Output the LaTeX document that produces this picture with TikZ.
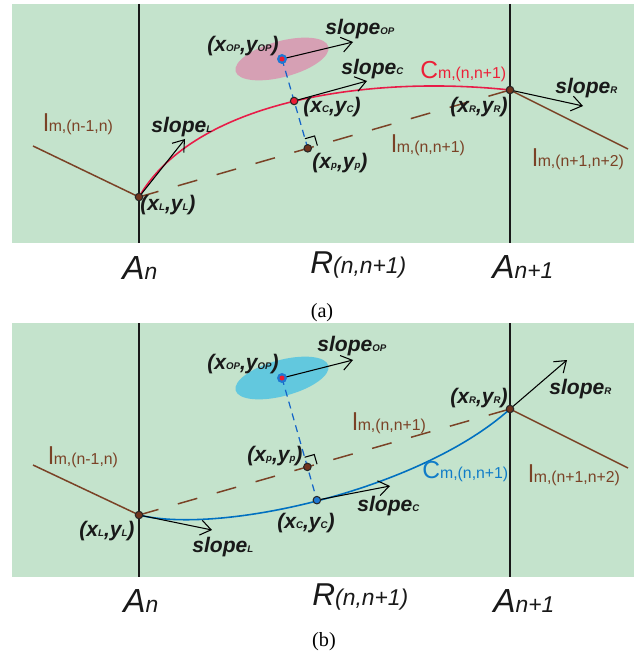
\documentclass[tikz,border=0pt]{standalone}
\usepackage{fontspec}
\setmainfont{Liberation Serif}
\setsansfont{Liberation Sans}
\usetikzlibrary{arrows.meta, calc}

\definecolor{panelgreen}{RGB}{196,227,204}
\definecolor{segbrown}{RGB}{122,66,38}
\definecolor{dotbrown}{RGB}{112,52,30}
\definecolor{curvered}{RGB}{232,28,72}
\definecolor{lblred}{RGB}{236,32,56}
\definecolor{curveblue}{RGB}{0,112,192}
\definecolor{lblblue}{RGB}{16,124,200}
\definecolor{ellpink}{RGB}{214,160,180}
\definecolor{ellcyan}{RGB}{98,200,222}
\definecolor{dotred}{RGB}{236,28,52}
\definecolor{dotblue}{RGB}{30,120,210}
\definecolor{projblue}{RGB}{20,100,200}

\newcommand{\xylab}[1]{(x{\fontsize{5.5}{6}\selectfont #1},y{\fontsize{5.5}{6}\selectfont #1})}
\newcommand{\slopelab}[1]{slope{\fontsize{5.5}{6}\selectfont #1}}
\newcommand{\linelab}[2]{{\fontsize{14}{14}\selectfont #1}{\fontsize{9}{9}\selectfont m,(#2)}}
\newcommand{\axlab}[3]{{\fontsize{#1}{#1}\selectfont #2}{\fontsize{13}{13}\selectfont #3}}

\begin{document}
\begin{tikzpicture}[
            x=0.02cm, y=-0.02cm,
            panel/.style={fill=panelgreen, draw=none},
            axisline/.style={line width=1.4pt, black!90},
            segline/.style={draw=segbrown, line width=0.85pt},
            chordline/.style={draw=segbrown, line width=0.85pt, dash pattern=on 11.5pt off 11.5pt},
            projline/.style={draw=projblue, line width=0.7pt, dash pattern=on 4pt off 3pt},
            slopearrow/.style={
                    -{Straight Barb[length=2.1mm,width=3mm]},
                    line width=0.6pt,
                    black
                },
            rightmark/.style={line width=0.6pt, black},
            ptdot/.style={
                    circle,
                    draw=black!85,
                    line width=0.6pt,
                    inner sep=0pt,
                    minimum size=1.5mm,
                    fill=dotbrown
                },
            opdot/.style={circle, inner sep=0pt, minimum size=2mm, fill=dotblue},
            opcore/.style={circle, inner sep=0pt, minimum size=1mm, fill=dotred},
            coordlbl/.style={
                    font=\sffamily\bfseries\itshape\fontsize{12}{14}\selectfont,
                    text=black!90,
                    inner sep=0pt,
                    anchor=base west
                },
            linelbl/.style={font=\sffamily, text=segbrown, inner sep=0pt, anchor=base west},
            axlbl/.style={font=\sffamily\itshape, text=black!90, inner sep=0pt, anchor=base west},
            caplbl/.style={font=\fontsize{11.5}{13}\selectfont, inner sep=0pt, anchor=base}
        ]
        \useasboundingbox (0,0) rectangle (641,658);

        % ---------- panel (a) ----------
        \fill[panel] (12,4) rectangle (634,243);
        \coordinate (Ana-top) at (139,4);
        \coordinate (Ana-bot) at (139,243);
        \coordinate (Apa-top) at (510,4);
        \coordinate (Apa-bot) at (510,243);
        \draw[axisline] (Ana-top) -- (Ana-bot);
        \draw[axisline] (Apa-top) -- (Apa-bot);

        \coordinate (La) at (139,197);
        \coordinate (Ra) at (510,90);
        \coordinate (OPa) at (282,59);
        \coordinate (Pa) at ($(La)!(OPa)!(Ra)$);
        \coordinate (Ca) at ($(OPa)!0.47!(Pa)$);
        \coordinate (lLa) at (33,146);
        \coordinate (lRa) at (628,149);
        \coordinate (sLa) at (185,139);
        \coordinate (sOPa) at (353,42);
        \coordinate (sCa) at (367,81);
        \coordinate (sRa) at (583,106);

        \fill[ellpink, rotate around={15:(OPa)}] (OPa) ellipse [x radius=0.96cm, y radius=0.36cm];

        \draw[segline] (lLa) -- (La);
        \draw[segline] (Ra) -- (lRa);
        \draw[chordline] (La) -- (Ra);
        \draw[curvered, line width=0.9pt] (La) .. controls (195,100) and (370,75) .. (Ra);
        \draw[projline] (OPa) -- (Pa);

        \coordinate (qa1) at ($(Pa)!2mm!(OPa)$);
        \coordinate (qa2) at ($(Pa)!2mm!(Ra)$);
        \draw[rightmark] (qa1) -- ($(qa1)+(qa2)-(Pa)$) -- (qa2);

        \draw[slopearrow] (La) -- (sLa);
        \draw[slopearrow] (OPa) -- (sOPa);
        \draw[slopearrow] (Ca) -- (sCa);
        \draw[slopearrow] (Ra) -- (sRa);

        \node[ptdot] (La-dot) at (La) {};
        \node[ptdot] (Ra-dot) at (Ra) {};
        \node[ptdot] (Pa-dot) at (Pa) {};
        \node[ptdot, fill=dotred] (Ca-dot) at (Ca) {};
        \node[opdot] (OPa-dot) at (OPa) {};
        \node[opcore] (OPa-core) at (OPa) {};

        \node[linelbl] (lbl-lLa) at (43,132) {\linelab{l}{n-1,n}};
        \node[linelbl] (lbl-lMa) at (391,153) {\linelab{l}{n,n+1}};
        \node[linelbl] (lbl-lRa) at (532,167) {\linelab{l}{n+1,n+2}};
        \node[linelbl, text=lblred] (lbl-Cma) at (420,79) {\linelab{C}{n,n+1}};

        \node[coordlbl] (lbl-La) at (140,211) {\xylab{L}};
        \node[coordlbl] (lbl-OPa) at (207,52) {\xylab{OP}};
        \node[coordlbl] (lbl-Ca) at (303,113) {\xylab{C}};
        \node[coordlbl] (lbl-Pa) at (312,169) {\xylab{p}};
        \node[coordlbl, anchor=base east] (lbl-Ra) at (508,113) {\xylab{R}};
        \node[coordlbl] (lbl-sLa) at (151,133) {\slopelab{L}};
        \node[coordlbl] (lbl-sOPa) at (325,35) {\slopelab{OP}};
        \node[coordlbl] (lbl-sCa) at (341,75) {\slopelab{C}};
        \node[coordlbl] (lbl-sRa) at (555,94) {\slopelab{R}};

        \node[axlbl] (lbl-Ana) at (122,279) {\axlab{19}{A}{n}};
        \node[axlbl] (lbl-Rsa) at (310,273) {\axlab{18}{R}{(n,n+1)}};
        \node[axlbl] (lbl-Apa) at (492,278) {\axlab{19}{A}{n+1}};
        \node[caplbl] (cap-a) at (322,317) {(a)};

        % ---------- panel (b) ----------
        \fill[panel] (12,323) rectangle (634,577);
        \coordinate (Anb-top) at (139,323);
        \coordinate (Anb-bot) at (139,577);
        \coordinate (Apb-top) at (510,323);
        \coordinate (Apb-bot) at (510,577);
        \draw[axisline] (Anb-top) -- (Anb-bot);
        \draw[axisline] (Apb-top) -- (Apb-bot);

        \coordinate (Lb) at (139,515);
        \coordinate (Rb) at (510,409);
        \coordinate (OPb) at (282,378);
        \coordinate (Pb) at ($(Lb)!(OPb)!(Rb)$);
        \coordinate (Cb) at ($(OPb)!1.374!(Pb)$);
        \coordinate (lLb) at (33,465);
        \coordinate (lRb) at (628,468);
        \coordinate (sLb) at (212,530);
        \coordinate (sOPb) at (353,360);
        \coordinate (sCb) at (390,486);
        \coordinate (sRb) at (567,360);

        \fill[ellcyan, rotate around={15:(OPb)}] (OPb) ellipse [x radius=0.96cm, y radius=0.36cm];

        \draw[segline] (lLb) -- (Lb);
        \draw[segline] (Rb) -- (lRb);
        \draw[chordline] (Lb) -- (Rb);
        \draw[curveblue, line width=0.9pt] (Lb) .. controls (220,535) and (420,490) .. (Rb);
        \draw[projline] (OPb) -- (Cb);

        \coordinate (qb1) at ($(Pb)!2mm!(OPb)$);
        \coordinate (qb2) at ($(Pb)!2mm!(Rb)$);
        \draw[rightmark] (qb1) -- ($(qb1)+(qb2)-(Pb)$) -- (qb2);

        \draw[slopearrow] (Lb) -- (sLb);
        \draw[slopearrow] (OPb) -- (sOPb);
        \draw[slopearrow] (Cb) -- (sCb);
        \draw[slopearrow] (Rb) -- (sRb);

        \node[ptdot] (Lb-dot) at (Lb) {};
        \node[ptdot] (Rb-dot) at (Rb) {};
        \node[ptdot] (Pb-dot) at (Pb) {};
        \node[ptdot, fill=dotblue] (Cb-dot) at (Cb) {};
        \node[opdot] (OPb-dot) at (OPb) {};
        \node[opcore] (OPb-core) at (OPb) {};

        \node[linelbl] (lbl-lLb) at (48,464) {\linelab{l}{n-1,n}};
        \node[linelbl] (lbl-lMb) at (352,430) {\linelab{l}{n,n+1}};
        \node[linelbl] (lbl-lRb) at (528,482) {\linelab{l}{n+1,n+2}};
        \node[linelbl, text=lblblue] (lbl-Cmb) at (422,478) {\linelab{C}{n,n+1}};

        \node[coordlbl] (lbl-Lb) at (79,536) {\xylab{L}};
        \node[coordlbl] (lbl-OPb) at (207,369) {\xylab{OP}};
        \node[coordlbl] (lbl-Cb) at (277,528) {\xylab{C}};
        \node[coordlbl] (lbl-Pb) at (247,461) {\xylab{p}};
        \node[coordlbl, anchor=base east] (lbl-Rb) at (508,403) {\xylab{R}};
        \node[coordlbl] (lbl-sLb) at (192,552) {\slopelab{L}};
        \node[coordlbl] (lbl-sOPb) at (317,351) {\slopelab{OP}};
        \node[coordlbl] (lbl-sCb) at (357,511) {\slopelab{C}};
        \node[coordlbl] (lbl-sRb) at (549,394) {\slopelab{R}};

        \node[axlbl] (lbl-Anb) at (123,612) {\axlab{19}{A}{n}};
        \node[axlbl] (lbl-Rsb) at (312,605) {\axlab{18}{R}{(n,n+1)}};
        \node[axlbl] (lbl-Apb) at (493,612) {\axlab{19}{A}{n+1}};
        \node[caplbl] (cap-b) at (324,646) {(b)};

    \end{tikzpicture}
\end{document}
